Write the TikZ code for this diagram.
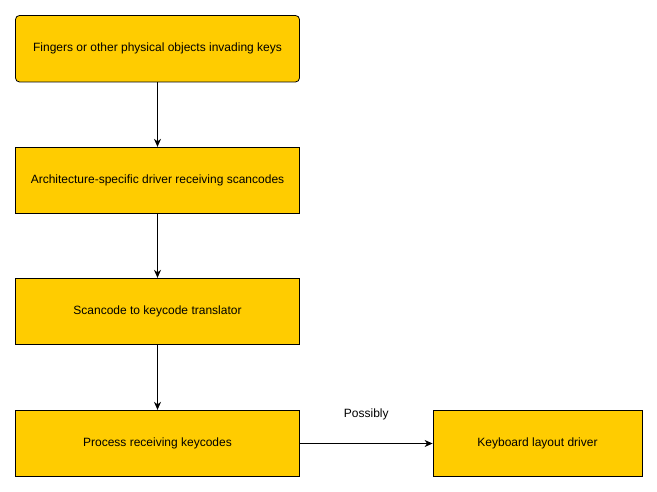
\documentclass[tikz,border=0pt]{standalone}
\usepackage{fontspec}
\setmainfont{Liberation Sans}
\usetikzlibrary{arrows.meta}
\definecolor{boxfill}{HTML}{FFCC00}
\tikzset{
  flowbox/.style={draw=black, fill=boxfill, line width=0.8pt, minimum width=284pt, minimum height=66.5pt, inner sep=0pt, font=\fontsize{12}{14}\selectfont},
  flowarrow/.style={draw=black, line width=0.8pt, -{Stealth[length=8pt,width=7pt,inset=2.5pt]}},
}
\begin{document}
\begin{tikzpicture}[x=1pt,y=1pt]
\useasboundingbox (0,0) rectangle (657,492);
\node[flowbox, rounded corners=4pt] (a) at (157.5,443.25) {Fingers or other physical objects invading keys};
\node[flowbox] (b) at (157.5,311.5) {Architecture-specific driver receiving scancodes};
\node[flowbox] (c) at (157.5,180.5) {Scancode to keycode translator};
\node[flowbox] (d) at (157.5,48.5) {Process receiving keycodes};
\node[flowbox, minimum width=209pt] (e) at (537.5,48.5) {Keyboard layout driver};
\draw[flowarrow] (a) -- (b);
\draw[flowarrow] (b) -- (c);
\draw[flowarrow] (c) -- (d);
\draw[flowarrow] (d) -- node[above=20pt, font=\fontsize{12}{14}\selectfont] (lbl) {Possibly} (e);
\end{tikzpicture}
\end{document}
